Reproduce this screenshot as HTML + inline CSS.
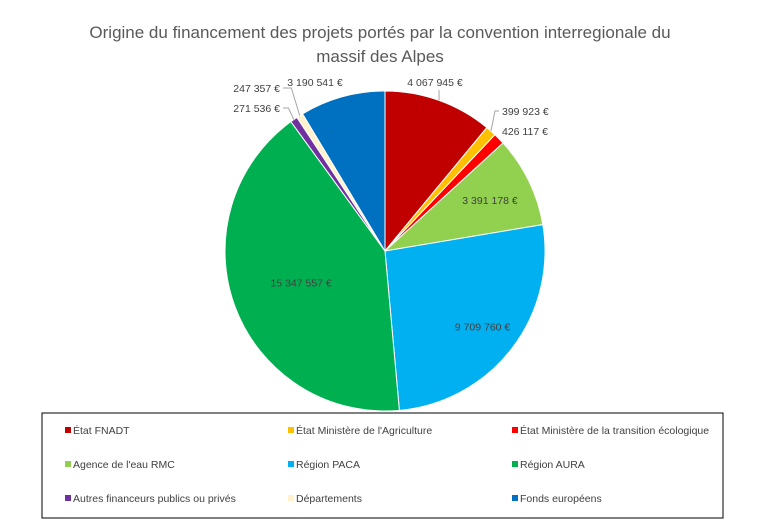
<!DOCTYPE html>
<html><head><meta charset="utf-8"><style>
body{margin:0;background:#fff;width:757px;height:524px;overflow:hidden;font-family:"Liberation Sans",sans-serif}
svg text{font-family:"Liberation Sans",sans-serif}
</style></head><body>
<svg width="757" height="524">
<text x="380" y="38" text-anchor="middle" font-size="17" fill="#595959">Origine du financement des projets portés par la convention interregionale du</text>
<text x="380" y="62" text-anchor="middle" font-size="17" fill="#595959">massif des Alpes</text>
<g id="slices"></g>
<g id="labels"></g>
<rect x="42" y="413" width="681" height="105" fill="none" stroke="#000" stroke-width="1"/>
<g id="legend"></g>
</svg>
<script>
const categories=["État FNADT","État Ministère de l'Agriculture","État Ministère de la transition écologique","Agence de l'eau RMC","Région PACA","Région AURA","Autres financeurs publics ou privés","Départements","Fonds européens"];
const values=[4067945,399923,426117,3391178,9709760,15347557,271536,247357,3190541];
const valueLabels=["4 067 945 €","399 923 €","426 117 €","3 391 178 €","9 709 760 €","15 347 557 €","271 536 €","247 357 €","3 190 541 €"];
const colors=["#C00000","#FFC000","#FF0000","#92D050","#00B0F0","#00B050","#7030A0","#FFF2CC","#0070C0"];
const NS="http://www.w3.org/2000/svg";
const cx=385,cy=251,r=160;
const total=values.reduce((a,b)=>a+b,0);
const sg=document.getElementById('slices'),lg=document.getElementById('labels'),leg=document.getElementById('legend');
function pt(a,rr){return [cx+rr*Math.sin(a),cy-rr*Math.cos(a)];}
function labelR(i){return i===3?0.73:i===4?0.77:i===5?0.56:0.62;}
let acc=0;
values.forEach((v,i)=>{
  const a0=acc/total*2*Math.PI;acc+=v;const a1=acc/total*2*Math.PI;
  const p0=pt(a0,r),p1=pt(a1,r);
  const p=document.createElementNS(NS,'path');
  p.setAttribute('d',`M${cx},${cy}L${p0[0]},${p0[1]}A${r},${r} 0 ${a1-a0>Math.PI?1:0} 1 ${p1[0]},${p1[1]}Z`);
  p.setAttribute('fill',colors[i]);p.setAttribute('stroke','#fff');p.setAttribute('stroke-width','1');
  
  
  sg.appendChild(p);
  const am=(a0+a1)/2,frac=v/total;
  let lx,ly,anchor='middle';
  if(frac>0.05){const q=pt(am,r*labelR(i));lx=q[0];ly=q[1]+4;}
  else{
    const e=pt(am,r),right=Math.sin(am)>0;
    const q=pt(am,r+12);
    lx=right?q[0]+6:q[0]-6;ly=q[1]+4;anchor=right?'start':'end';
    if(i===1){lx=502;ly=115;}
    if(i===2){lx=502;ly=135;}
    if(i===6){lx=280;ly=112;}
    if(i===7){lx=280;ly=92;}
    const ln=document.createElementNS(NS,'polyline');
    const sx=anchor==='start'?lx-3:lx+3;
    ln.setAttribute('points',`${sx},${ly-4} ${(sx+e[0])/2},${ly-4} ${e[0]},${e[1]}`);
    ln.setAttribute('fill','none');ln.setAttribute('stroke','#A6A6A6');ln.setAttribute('stroke-width','1');
    
    
    if(i!==2)lg.appendChild(ln);
  }
  if(i===0){lx=435;ly=86;const ln=document.createElementNS(NS,'line');const e=pt(am,r);ln.setAttribute('x1',439);ln.setAttribute('y1',90);ln.setAttribute('x2',e[0]);ln.setAttribute('y2',e[1]);ln.setAttribute('stroke','#A6A6A6');
    
    
    lg.appendChild(ln);}
  if(i===8){lx=315;ly=86;}
  const t=document.createElementNS(NS,'text');
  t.setAttribute('x',lx);t.setAttribute('y',ly);t.setAttribute('text-anchor',anchor);
  t.setAttribute('font-size','10.5');t.setAttribute('fill','#404040');
  t.textContent=valueLabels[i];
  
  
  lg.appendChild(t);
});
const colX=[65,288,512],rowY=[431,465,499];
categories.forEach((c,i)=>{
  const x=colX[i%3],y=rowY[Math.floor(i/3)];
  const g=document.createElementNS(NS,'g');
  
  
  const s=document.createElementNS(NS,'rect');
  s.setAttribute('x',x);s.setAttribute('y',y-4);s.setAttribute('width',6);s.setAttribute('height',6);s.setAttribute('fill',colors[i]);
  
  
  const t=document.createElementNS(NS,'text');
  t.setAttribute('x',x+8);t.setAttribute('y',y+3);t.setAttribute('font-size','10.5');t.setAttribute('fill','#404040');
  t.textContent=c;
  
  
  g.appendChild(s);g.appendChild(t);leg.appendChild(g);
});
</script>
</body></html>
